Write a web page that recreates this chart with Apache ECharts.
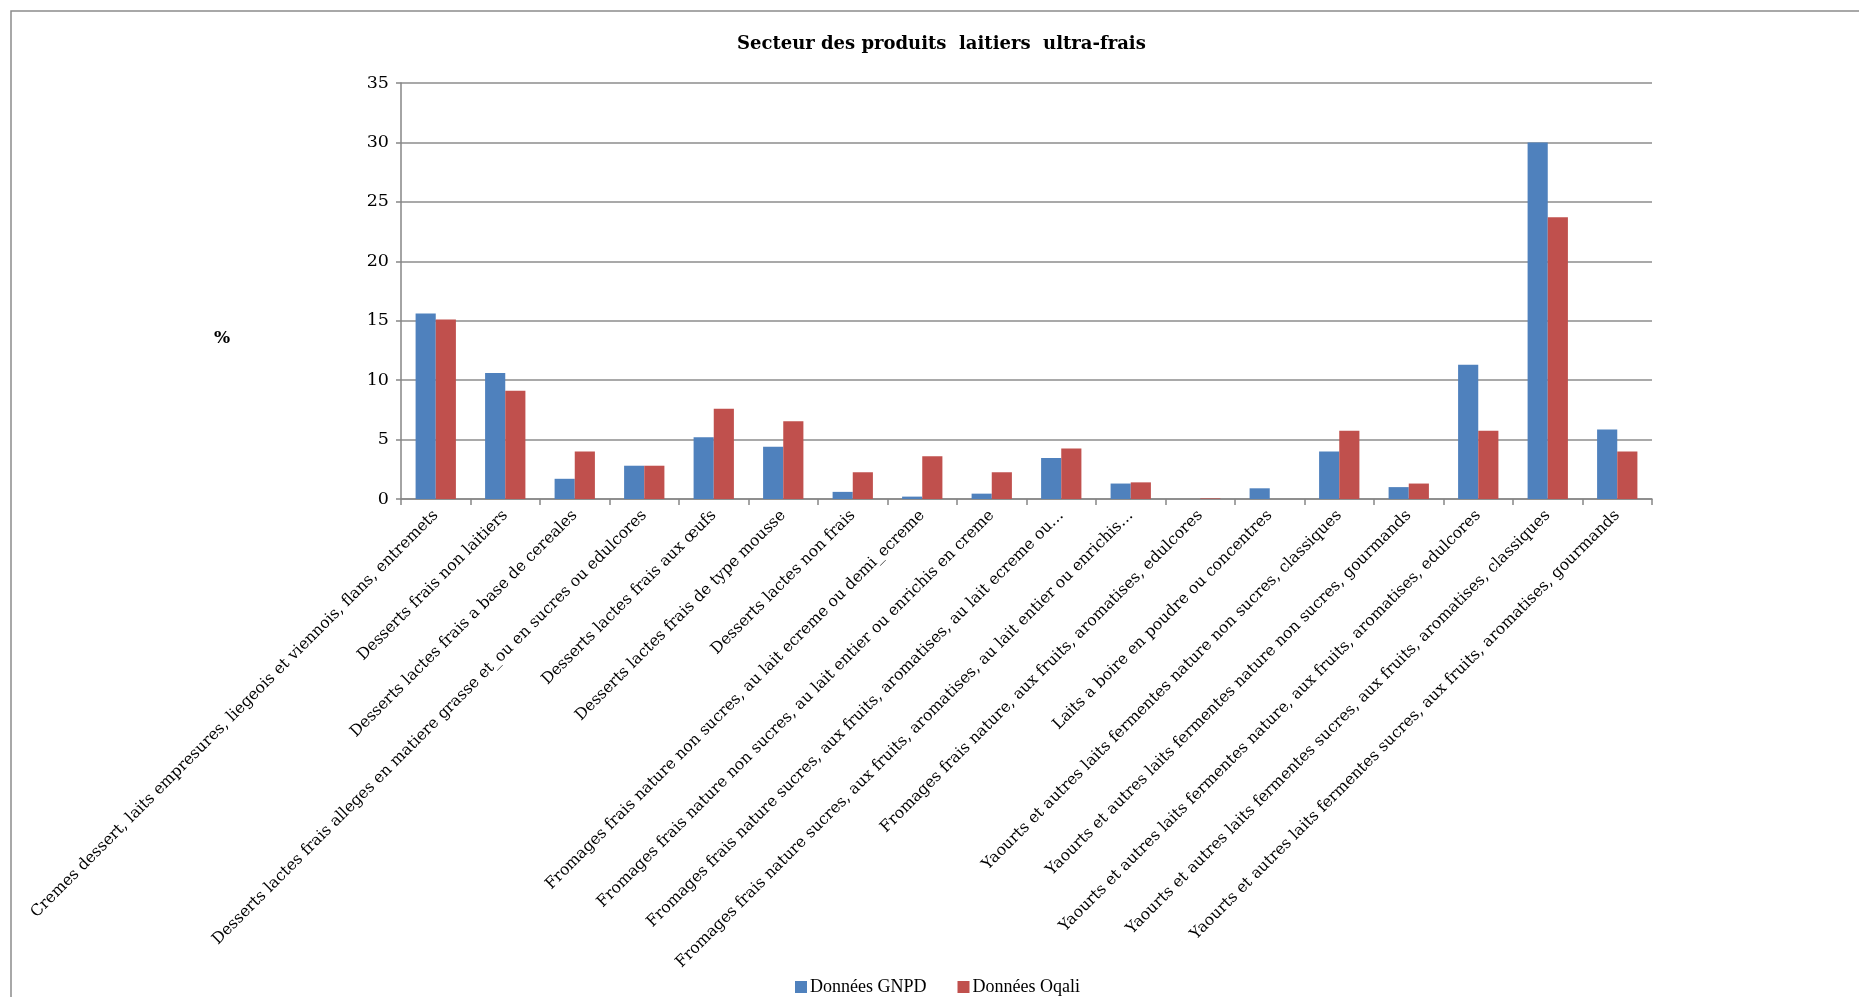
<!DOCTYPE html>
<html>
<head>
<meta charset="utf-8">
<script src="https://cdn.jsdelivr.net/npm/echarts@6/dist/echarts.min.js"></script>
<style>
  html, body { margin: 0; padding: 0; background: #fff; }
  #chart { width: 1859px; height: 997px; }
</style>
</head>
<body>
<div id="chart"></div>
<script>
// Categories (x axis)
const categories = [
  'Cremes dessert, laits empresures, liegeois et viennois, flans, entremets',
  'Desserts frais non laitiers',
  'Desserts lactes frais a base de cereales',
  'Desserts lactes frais alleges en matiere grasse et_ou en sucres ou edulcores',
  'Desserts lactes frais aux œufs',
  'Desserts lactes frais de type mousse',
  'Desserts lactes non frais',
  'Fromages frais nature non sucres, au lait ecreme ou demi_ecreme',
  'Fromages frais nature non sucres, au lait entier ou enrichis en creme',
  'Fromages frais nature sucres, aux fruits, aromatises, au lait ecreme ou…',
  'Fromages frais nature sucres, aux fruits, aromatises, au lait entier ou enrichis…',
  'Fromages frais nature, aux fruits, aromatises, edulcores',
  'Laits a boire en poudre ou concentres',
  'Yaourts et autres laits fermentes nature non sucres, classiques',
  'Yaourts et autres laits fermentes nature non sucres, gourmands',
  'Yaourts et autres laits fermentes nature, aux fruits, aromatises, edulcores',
  'Yaourts et autres laits fermentes sucres, aux fruits, aromatises, classiques',
  'Yaourts et autres laits fermentes sucres, aux fruits, aromatises, gourmands'
];

// Series values (%)
const gnpd = [15.6, 10.6, 1.7, 2.8, 5.2, 4.4, 0.6, 0.2, 0.45, 3.45, 1.3, 0, 0.9, 4.0, 1.0, 11.3, 30.0, 5.85];
const oqali = [15.1, 9.1, 4.0, 2.8, 7.6, 6.55, 2.25, 3.6, 2.25, 4.25, 1.4, 0.05, 0, 5.75, 1.3, 5.75, 23.7, 4.0];

const seriesNames = ['Données GNPD', 'Données Oqali'];
const colors = ['#4F81BD', '#C0504D'];

const chart = echarts.init(document.getElementById('chart'));

const serif = 'DejaVu Serif';

chart.setOption({
  animation: false,
  backgroundColor: '#fff',
  title: {
    text: 'Secteur des produits  laitiers  ultra-frais',
    left: 732,
    top: 30,
    textStyle: { fontFamily: serif, fontSize: 18, fontWeight: 'bold', color: '#000' }
  },
  graphic: [{
    type: 'rect',
    shape: { x: 11, y: 11, width: 1900, height: 1000 },
    style: { fill: 'none', stroke: '#8c8c8c', lineWidth: 1.5 },
    silent: true
  }, {
    type: 'text',
    left: 214,
    top: 330,
    style: { text: '%', fontFamily: serif, fontSize: 17, fontWeight: 'bold', fill: '#000' }
  }],
  legend: {
    top: 973,
    left: 790,
    itemWidth: 12,
    itemHeight: 12,
    itemGap: 31,
    icon: 'rect',
    textStyle: { fontFamily: 'Liberation Serif', fontSize: 18, color: '#000', padding: [0, 0, 0, -2] },
    data: seriesNames
  },
  grid: { left: 401, right: 207, top: 83, bottom: 498, containLabel: false },
  xAxis: {
    type: 'category',
    data: categories,
    axisLine: { lineStyle: { color: '#868686', width: 1.5 } },
    axisTick: { show: true, length: 6, lineStyle: { color: '#868686', width: 1.5 } },
    axisLabel: {
      interval: 0,
      rotate: 45,
      margin: 14,
      fontFamily: serif,
      fontSize: 15.7,
      color: '#000'
    }
  },
  yAxis: {
    type: 'value',
    min: 0,
    max: 35,
    interval: 5,
    axisLine: { show: true, lineStyle: { color: '#868686', width: 1.5 } },
    axisTick: { show: true, length: 5, lineStyle: { color: '#868686', width: 1.5 } },
    splitLine: { lineStyle: { color: '#8c8c8c', width: 1.5 } },
    axisLabel: { fontFamily: serif, fontSize: 17.5, color: '#000', margin: 12 }
  },
  series: seriesNames.map((name, i) => ({
    name: name,
    type: 'bar',
    data: i === 0 ? gnpd : oqali,
    barGap: '0%',
    barCategoryGap: '42%',
    itemStyle: { color: colors[i] }
  }))
});
</script>
</body>
</html>
